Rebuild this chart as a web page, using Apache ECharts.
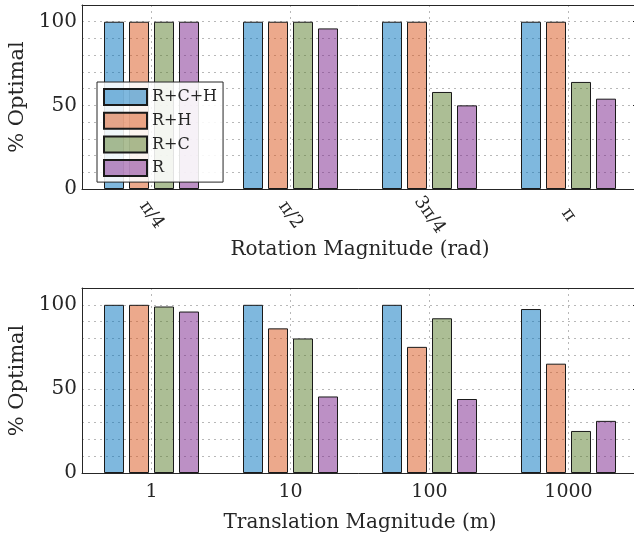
<!DOCTYPE html>
<html>
<head>
<meta charset="utf-8">
<script src="https://cdn.jsdelivr.net/npm/echarts@6/dist/echarts.min.js"></script>
<style>
html, body { margin: 0; padding: 0; background: #fff; }
#chart { width: 634px; height: 542px; }
</style>
</head>
<body>
<div id="chart"></div>
<script>
// methods / legend
const methods = ['R+C+H', 'R+H', 'R+C', 'R'];
const colors = ['rgba(0,114,189,0.5)', 'rgba(217,83,25,0.5)', 'rgba(89,125,43,0.5)', 'rgba(122,33,140,0.5)'];

// top panel: rotation
const rotationLabels = ['π/4', 'π/2', '3π/4', 'π'];
const rotRCH = [100, 100, 100, 100];
const rotRH = [100, 100, 100, 100];
const rotRC = [100, 100, 58, 64];
const rotR = [100, 96, 50, 54];

// bottom panel: translation
const translationLabels = ['1', '10', '100', '1000'];
const trRCH = [100, 100, 100, 97.5];
const trRH = [100, 86, 75, 65];
const trRC = [99, 80, 92, 25];
const trR = [96, 45.5, 44, 31];

const FONT = 'DejaVu Serif';
const INK = '#262626';
const gridDots = { color: ['#b8b8b8'], type: [2, 4], width: 1 };

function barSeries(gridIdx, lists) {
  return lists.map((vals, i) => ({
    name: methods[i],
    type: 'bar',
    xAxisIndex: gridIdx * 2,
    yAxisIndex: gridIdx * 2,
    data: vals,
    barWidth: 20,
    barGap: '25%',
    itemStyle: { color: colors[i], borderColor: '#1a1a1a', borderWidth: 1 },
    animation: false
  }));
}

function xAxes(gridIdx, labels, name, labelOpts, nameGap) {
  return [
    {
      gridIndex: gridIdx, type: 'category', position: 'bottom', data: labels,
      axisLine: { onZero: false, lineStyle: { color: INK, width: 1 } },
      axisTick: { inside: true, alignWithLabel: true, length: 5, lineStyle: { color: INK } },
      axisLabel: Object.assign({ color: INK, fontFamily: FONT }, labelOpts),
      // dotted vertical grid at the category centres
      splitLine: { show: true, alignWithLabel: true, lineStyle: gridDots },
      name: name, nameLocation: 'middle', nameGap: nameGap,
      nameTextStyle: { color: INK, fontFamily: FONT, fontSize: 20 }
    },
    {
      gridIndex: gridIdx, type: 'category', position: 'top', data: labels,
      axisLine: { onZero: false, lineStyle: { color: INK, width: 1 } },
      axisTick: { inside: true, alignWithLabel: true, length: 5, lineStyle: { color: INK } },
      axisLabel: { show: false },
      splitLine: { show: false }
    }
  ];
}

function yAxes(gridIdx) {
  return [
    {
      gridIndex: gridIdx, type: 'value', min: 0, max: 110, interval: 10, position: 'left',
      axisLine: { show: true, onZero: false, lineStyle: { color: INK, width: 1 } },
      axisTick: { show: false },
      axisLabel: {
        color: INK, fontFamily: FONT, fontSize: 20, margin: 5,
        formatter: v => (v % 50 === 0 ? String(v) : '')
      },
      splitLine: { show: true, lineStyle: gridDots },
      name: '% Optimal', nameLocation: 'middle', nameGap: 53,
      nameTextStyle: { color: INK, fontFamily: FONT, fontSize: 21 }
    },
    {
      gridIndex: gridIdx, type: 'value', min: 0, max: 110, interval: 50, position: 'right',
      axisLine: { show: true, onZero: false, lineStyle: { color: INK, width: 1 } },
      axisTick: { show: true, inside: true, length: 5, lineStyle: { color: INK } },
      axisLabel: { show: false },
      splitLine: { show: false }
    }
  ];
}

const chart = echarts.init(document.getElementById('chart'));
chart.setOption({
  animation: false,
  grid: [
    { left: 82, top: 5, width: 556, height: 184, outerBoundsMode: 'none' },
    { left: 82, top: 288, width: 556, height: 185, outerBoundsMode: 'none' }
  ],
  legend: {
    data: methods,
    orient: 'vertical',
    left: 97, top: 82,
    padding: [6, 6, 5, 6],
    itemWidth: 43, itemHeight: 16, itemGap: 5.7,
    icon: 'rect',
    backgroundColor: 'rgba(255,255,255,0.88)',
    borderColor: INK, borderWidth: 1,
    textStyle: { color: INK, fontFamily: FONT, fontSize: 16 }
  },
  xAxis: [].concat(
    xAxes(0, rotationLabels, 'Rotation Magnitude (rad)',
      { fontSize: 18, rotate: -55, align: 'center', verticalAlign: 'middle', margin: 26 }, 46),
    xAxes(1, translationLabels, 'Translation Magnitude (m)',
      { fontSize: 19, margin: 10 }, 40)
  ),
  yAxis: [].concat(yAxes(0), yAxes(1)),
  series: [].concat(
    barSeries(0, [rotRCH, rotRH, rotRC, rotR]),
    barSeries(1, [trRCH, trRH, trRC, trR])
  )
});
</script>
</body>
</html>
